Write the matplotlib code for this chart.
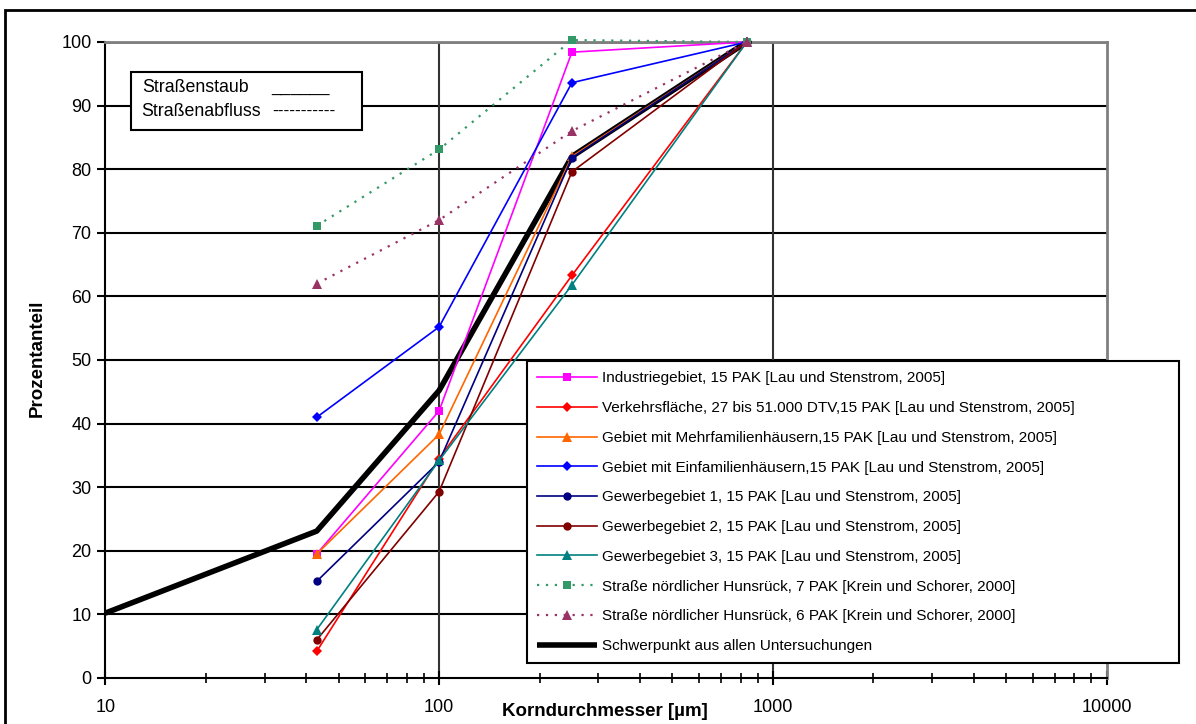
import matplotlib
matplotlib.use("Agg")
import matplotlib.pyplot as plt
from matplotlib.patches import Rectangle
from matplotlib.ticker import FixedLocator, NullFormatter

plt.rcParams['font.family'] = ['Liberation Sans', 'DejaVu Sans']

x_main = [43, 100, 250, 835]
x_black = [10, 43, 100, 250, 835]

labels = [
    "Industriegebiet, 15 PAK [Lau und Stenstrom, 2005]",
    "Verkehrsfläche, 27 bis 51.000 DTV,15 PAK [Lau und Stenstrom, 2005]",
    "Gebiet mit Mehrfamilienhäusern,15 PAK [Lau und Stenstrom, 2005]",
    "Gebiet mit Einfamilienhäusern,15 PAK [Lau und Stenstrom, 2005]",
    "Gewerbegebiet 1, 15 PAK [Lau und Stenstrom, 2005]",
    "Gewerbegebiet 2, 15 PAK [Lau und Stenstrom, 2005]",
    "Gewerbegebiet 3, 15 PAK [Lau und Stenstrom, 2005]",
    "Straße nördlicher Hunsrück, 7 PAK [Krein und Schorer, 2000]",
    "Straße nördlicher Hunsrück, 6 PAK [Krein und Schorer, 2000]",
    "Schwerpunkt aus allen Untersuchungen",
]

industrie = [19.5, 42.0, 98.4, 100]
verkehr = [4.2, 34.5, 63.3, 100]
mehrfam = [19.5, 38.3, 82.0, 100]
einfam = [41.0, 55.2, 93.6, 100]
gewerbe1 = [15.2, 34.0, 81.8, 100]
gewerbe2 = [6.0, 29.3, 79.6, 100]
gewerbe3 = [7.6, 34.2, 61.8, 100]
hunsrueck7 = [71.1, 83.1, 100.3, 100]
hunsrueck6 = [62.0, 72.0, 86.0, 100]
schwerpunkt = [10.2, 23.1, 45.2, 82.0, 100]

x_ticks = [10, 100, 1000, 10000]
x_ticklabels = ["10", "100", "1000", "10000"]
y_ticks = [0, 10, 20, 30, 40, 50, 60, 70, 80, 90, 100]

W, H = 1196, 724
fig = plt.figure(figsize=(W / 100, H / 100), dpi=100)
L, R, T, B = 105.3, 1106.7, 42, 678
ax = fig.add_axes([L / W, 1 - B / H, (R - L) / W, (B - T) / H])

ax.set_xscale('log')
ax.set_xlim(10, 10000)
ax.set_ylim(0, 100)

styles = [
    dict(color='#FF00FF', marker='s', ms=5.5),
    dict(color='#FF0000', marker='D', ms=4.6),
    dict(color='#FF6600', marker='^', ms=7),
    dict(color='#0000FF', marker='D', ms=4.6),
    dict(color='#000080', marker='o', ms=6),
    dict(color='#800000', marker='o', ms=6),
    dict(color='#008080', marker='^', ms=7),
]
series = [industrie, verkehr, mehrfam, einfam, gewerbe1, gewerbe2, gewerbe3]

handles = []
blk, = ax.plot(x_black, schwerpunkt, color='black', lw=4, zorder=3,
               solid_capstyle='butt', clip_on=False)
for ys, st in zip(series, styles):
    h, = ax.plot(x_main, ys, lw=1.2, zorder=4, clip_on=False,
                 markeredgewidth=0, **st)
    handles.append(h)
h7, = ax.plot(x_main, hunsrueck7, color='#339966', marker='s', ms=5.5, lw=1.6,
              ls=(0, (1, 3)), zorder=4, clip_on=False, markeredgewidth=0)
h6, = ax.plot(x_main, hunsrueck6, color='#993366', marker='^', ms=7, lw=1.6,
              ls=(0, (1, 3)), zorder=4, clip_on=False, markeredgewidth=0)
handles += [h7, h6, blk]

# grid
for y in y_ticks[1:-1]:
    ax.axhline(y, color='black', lw=1.5, zorder=1)
ax.axhline(100, color='#808080', lw=2, zorder=1)
for xv in [100, 1000]:
    ax.axvline(xv, color='#333333', lw=1.5, zorder=1)

for s in ['top', 'right']:
    ax.spines[s].set_color('#808080')
    ax.spines[s].set_linewidth(2)
for s in ['left', 'bottom']:
    ax.spines[s].set_color('black')
    ax.spines[s].set_linewidth(1.5)

ax.set_xticks(x_ticks)
ax.set_xticklabels(x_ticklabels)
minors = [m * 10 ** e for e in range(1, 4) for m in range(2, 10)]
ax.xaxis.set_minor_locator(FixedLocator(minors))
ax.xaxis.set_minor_formatter(NullFormatter())
ax.tick_params(axis='x', which='major', direction='inout', length=10, width=1.5,
               labelsize=13, pad=10)
ax.tick_params(axis='x', which='minor', direction='inout', length=7, width=1.2)
ax.set_yticks(y_ticks)
ax.tick_params(axis='y', which='major', direction='out', length=6, width=1.5,
               labelsize=13, pad=4)

fig.text(37 / W, 1 - 358 / H, "Prozentanteil", rotation=90, ha='center',
         va='center', fontsize=13.5, fontweight='bold')
fig.text(605 / W, 1 - 711 / H, "Korndurchmesser [µm]", ha='center',
         va='center', fontsize=13.5, fontweight='bold')

# legend
leg = fig.legend(handles, labels, loc='upper left',
                 bbox_to_anchor=(527 / W, 1 - 661 / H, (1179 - 527) / W, (661 - 361) / H),
                 mode='expand', frameon=True, fancybox=False, fontsize=11,
                 framealpha=1, handlelength=3.9, handletextpad=0.35,
                 labelspacing=1.03, borderpad=0.68, borderaxespad=0)
leg.get_frame().set_edgecolor('black')
leg.get_frame().set_linewidth(1.5)
leg.set_zorder(10)

# annotation box
fig.patches.append(Rectangle((131 / W, 1 - 130 / H), (362 - 131) / W, (130 - 72) / H,
                             transform=fig.transFigure, facecolor='white',
                             edgecolor='black', lw=1.5, zorder=5))
fig.text(142 / W, 1 - 88 / H, "Straßenstaub", ha='left', va='center',
         fontsize=12.8, zorder=6)
fig.text(271 / W, 1 - 88 / H, "______", ha='left', va='center',
         fontsize=12.5, zorder=6)
fig.text(141 / W, 1 - 111 / H, "Straßenabfluss", ha='left', va='center',
         fontsize=12.8, zorder=6)
fig.text(272 / W, 1 - 111 / H, "-----------", ha='left', va='center',
         fontsize=12.5, zorder=6)

# outer frame
fig.patches.append(Rectangle((5 / W, -0.05), 1.1, 1 - 10 / H + 0.05,
                             transform=fig.transFigure, facecolor='none',
                             edgecolor='black', lw=2, zorder=0))

fig.savefig("out.png", dpi=100)
